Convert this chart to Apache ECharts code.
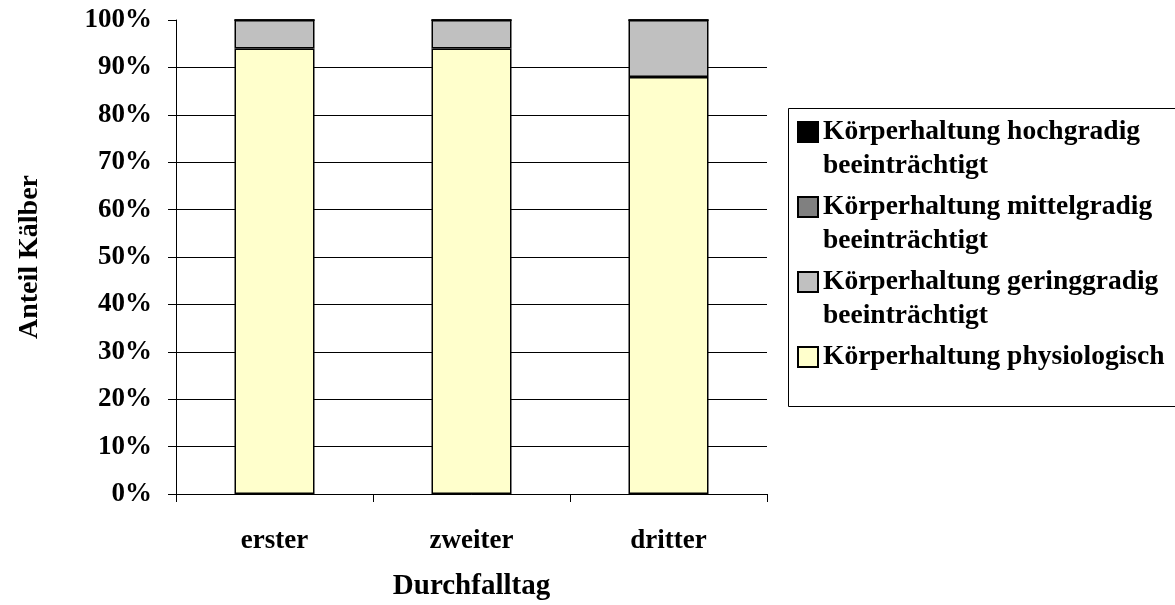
<!DOCTYPE html>
<html lang="de">

<head>
    <meta charset="UTF-8">
    <title>Körperhaltung nach Durchfalltag</title>
    <script src="https://cdn.jsdelivr.net/npm/echarts@6/dist/echarts.min.js"></script>
    <style>
        body {
            margin: 0;
            background: #fff;
        }

        #chart {
            width: 1175px;
            height: 605px;
        }
    </style>
</head>

<body>
    <div id="chart"></div>

    <script>
        // Daten
        const categories = ['erster', 'zweiter', 'dritter'];
        const physiologisch = [94, 94, 88];
        const geringgradig = [6, 6, 12];
        const mittelgradig = [0, 0, 0];
        const hochgradig = [0, 0, 0];
        const yTicks = { min: 0, max: 100, interval: 10 };

        const seriesNames = [
            'Körperhaltung physiologisch',
            'Körperhaltung geringgradig beeinträchtigt',
            'Körperhaltung mittelgradig beeinträchtigt',
            'Körperhaltung hochgradig beeinträchtigt'
        ];
        const seriesData = [physiologisch, geringgradig, mittelgradig, hochgradig];
        const seriesColors = ['#FFFFCC', '#C0C0C0', '#808080', '#000000'];

        const font = 'Liberation Serif';

        const chart = echarts.init(document.getElementById('chart'));

        const option = {
            animation: false,
            grid: {
                left: 176,
                top: 20,
                width: 591,
                height: 474,
                outerBoundsMode: 'none'
            },
            xAxis: {
                type: 'category',
                data: categories,
                name: 'Durchfalltag',
                nameLocation: 'middle',
                nameGap: 78,
                nameTextStyle: { fontFamily: font, fontWeight: 'bold', fontSize: 29, color: '#000' },
                axisLine: { lineStyle: { color: '#000', width: 1 } },
                axisTick: { show: true, length: 8, lineStyle: { color: '#000' } },
                axisLabel: { fontFamily: font, fontWeight: 'bold', fontSize: 27, color: '#000', margin: 34 }
            },
            yAxis: {
                type: 'value',
                min: yTicks.min,
                max: yTicks.max,
                interval: yTicks.interval,
                name: 'Anteil Kälber',
                nameLocation: 'middle',
                nameGap: 132,
                nameTextStyle: { fontFamily: font, fontWeight: 'bold', fontSize: 28, color: '#000' },
                axisLine: { show: true, lineStyle: { color: '#000', width: 1 } },
                axisTick: { show: true, length: 8, lineStyle: { color: '#000' } },
                axisLabel: {
                    fontFamily: font, fontWeight: 'bold', fontSize: 27, color: '#000', margin: 24,
                    formatter: '{value}%'
                },
                splitLine: { show: true, showMaxLine: false, lineStyle: { color: '#000', width: 1 } }
            },
            legend: {
                orient: 'vertical',
                left: 797,
                top: 81,
                padding: 0,
                itemGap: -27,
                itemWidth: 20,
                itemHeight: 20,
                icon: 'rect',
                data: seriesNames.slice().reverse(),
                itemStyle: { borderColor: '#000', borderWidth: 2 },
                textStyle: { fontFamily: font, fontWeight: 'bold', fontSize: 27.5, color: '#000', lineHeight: 34 },
                // erste Zeile mittig zum Symbol: leere Zeile davor
                formatter: function (name) {
                    if (name.indexOf(' beeinträchtigt') > -1) {
                        return '\n' + name.replace(' beeinträchtigt', '\nbeeinträchtigt');
                    }
                    return '\n' + name + '\n';
                }
            },
            graphic: [{
                type: 'rect',
                shape: { x: 788.5, y: 108.5, width: 420, height: 298 },
                style: { fill: 'none', stroke: '#000', lineWidth: 1 },
                silent: true
            }],
            series: seriesNames.map((name, i) => ({
                name: name,
                type: 'bar',
                stack: 'total',
                barWidth: 80,
                data: seriesData[i],
                itemStyle: { color: seriesColors[i], borderColor: '#000', borderWidth: 1.5 }
            }))
        };

        chart.setOption(option);
    </script>
</body>

</html>
